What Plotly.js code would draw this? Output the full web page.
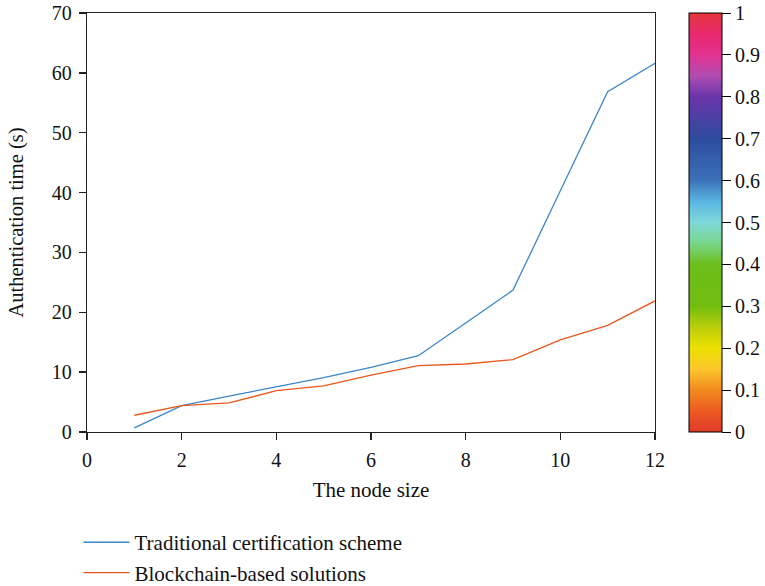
<!DOCTYPE html>
<html>
<head>
<meta charset="utf-8">
<script src="https://cdn.plot.ly/plotly-3.0.1.min.js"></script>
<style>html,body{margin:0;padding:0;background:#fff;}#chart{width:765px;height:586px;}</style>
</head>
<body>
<div id="chart"></div>
<script>
const nodeSize = [1, 2, 3, 4, 5, 6, 7, 8, 9, 10, 11, 12];
const traditional = [0.7, 4.4, 6.0, 7.5, 9.1, 10.8, 12.75, 18.2, 23.7, 40.3, 56.85, 61.6];
const blockchain = [2.8, 4.4, 4.85, 6.9, 7.7, 9.5, 11.1, 11.36, 12.1, 15.4, 17.8, 21.9];
const seriesNames = ["Traditional certification scheme", "Blockchain-based solutions"];
const colorbarTicks = [0, 0.1, 0.2, 0.3, 0.4, 0.5, 0.6, 0.7, 0.8, 0.9, 1];
const colorbarTickText = ["0", "0.1", "0.2", "0.3", "0.4", "0.5", "0.6", "0.7", "0.8", "0.9", "1"];

const fontFamily = "Liberation Serif, DejaVu Serif, serif";
const rainbow = [
  [0.00, "#e03a2a"], [0.05, "#ec5a22"], [0.10, "#f38a1e"], [0.15, "#fbc62c"],
  [0.20, "#ece000"], [0.25, "#bcce0a"], [0.30, "#72bd10"], [0.40, "#6cbe1a"],
  [0.45, "#78d68a"], [0.50, "#80d8da"], [0.55, "#5ab6e2"], [0.60, "#3c72b8"],
  [0.70, "#2d4c9e"], [0.80, "#6a34a8"], [0.85, "#b04cb2"], [0.90, "#e23290"],
  [0.95, "#e8286e"], [1.00, "#e4363c"]
];

const traces = [
  {x: nodeSize, y: traditional, name: seriesNames[0], type: "scatter", mode: "lines",
   line: {color: "#3a86c8", width: 1.3}},
  {x: nodeSize, y: blockchain, name: seriesNames[1], type: "scatter", mode: "lines",
   line: {color: "#e8571c", width: 1.3}},
  {x: [null], y: [null], type: "scatter", mode: "markers", showlegend: false, hoverinfo: "skip",
   marker: {color: [0], cmin: 0, cmax: 1, colorscale: rainbow, showscale: true,
     colorbar: {x: 1.06, xanchor: "left", xref: "paper", y: 0, yanchor: "bottom", len: 1, lenmode: "fraction",
       thickness: 33, thicknessmode: "pixels", outlinecolor: "#000", outlinewidth: 1,
       tickvals: colorbarTicks, ticktext: colorbarTickText, ticks: "outside", ticklen: 9,
       tickcolor: "#000", tickfont: {family: fontFamily, size: 20, color: "#111"}, xpad: 0, ypad: 0}}}
];

const axisCommon = {showgrid: false, zeroline: false, showline: true, linecolor: "#222", linewidth: 1.3,
  mirror: true, ticks: "outside", ticklen: 7, tickcolor: "#222", tickwidth: 1.3, ticklabelstandoff: 3,
  tickfont: {family: fontFamily, size: 20, color: "#111"}};

const layout = {
  width: 765, height: 586,
  margin: {l: 87, r: 110, t: 13, b: 154, autoexpand: false},
  paper_bgcolor: "#fff", plot_bgcolor: "#fff",
  font: {family: fontFamily, color: "#111"},
  xaxis: Object.assign({}, axisCommon, {range: [0, 12], tickvals: [0, 2, 4, 6, 8, 10, 12],
    title: {text: "The node size", font: {family: fontFamily, size: 21, color: "#111"}, standoff: 12}}),
  yaxis: Object.assign({}, axisCommon, {range: [0, 70], tickvals: [0, 10, 20, 30, 40, 50, 60, 70],
    title: {text: "Authentication time (s)", font: {family: fontFamily, size: 20.5, color: "#111"}, standoff: 22}}),
  showlegend: true,
  legend: {orientation: "v", x: -0.015, xanchor: "left", y: -0.215, yanchor: "top",
    font: {family: fontFamily, size: 21, color: "#111"}, bgcolor: "rgba(0,0,0,0)", itemwidth: 46}
};

Plotly.newPlot("chart", traces, layout, {displayModeBar: false, staticPlot: true});
</script>
</body>
</html>
